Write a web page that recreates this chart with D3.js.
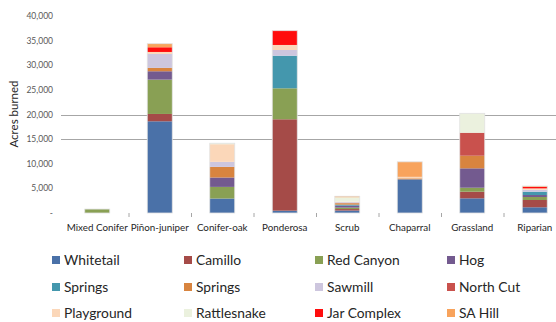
<!DOCTYPE html>
<html>
<head>
<meta charset="utf-8">
<script src="https://cdn.jsdelivr.net/npm/d3@7"></script>
<style>
  body { margin: 0; background: #fff; }
  svg { display: block; font-family: Lato, "Open Sans", sans-serif; }
</style>
</head>
<body>
<div id="chart"></div>
<script>
const width = 556, height = 322;

// categories along the x axis
const categories = ["Mixed Conifer", "Piñon-juniper", "Conifer-oak", "Ponderosa", "Scrub", "Chaparral", "Grassland", "Riparian"];

// fires (stack order, bottom to top)
const seriesKeys = ["whitetail", "camillo", "redCanyon", "hog", "springsA", "springsB", "sawmill", "northCut", "playground", "rattlesnake", "jarComplex", "saHill"];
const seriesLabels = ["Whitetail", "Camillo", "Red Canyon", "Hog", "Springs", "Springs", "Sawmill", "North Cut", "Playground", "Rattlesnake", "Jar Complex", "SA Hill"];
const seriesColors = ["#4a71a8", "#a54b48", "#89a054", "#735a8f", "#4497ad", "#d8843f", "#cdc6de", "#c9514d", "#fbd7b9", "#ebf1de", "#ff0d0d", "#f8a35c"];

// acres burned per category, one array per fire
const whitetail   = [0, 18620, 2940, 470, 500, 6840, 2980, 1160];
const camillo     = [0, 1490, 0, 18560, 300, 0, 1340, 1480];
const redCanyon   = [800, 6970, 2360, 6290, 300, 0, 810, 610];
const hog         = [0, 1700, 1910, 0, 400, 0, 3940, 400];
const springsA    = [0, 0, 0, 6620, 200, 0, 0, 670];
const springsB    = [0, 680, 2150, 0, 300, 200, 2560, 0];
const sawmill     = [0, 2840, 1020, 1160, 200, 0, 0, 400];
const northCut    = [0, 0, 0, 0, 0, 0, 4670, 0];
const playground  = [0, 400, 3590, 1020, 100, 300, 0, 280];
const rattlesnake = [0, 0, 200, 0, 900, 0, 3940, 0];
const jarComplex  = [0, 950, 0, 2900, 0, 0, 0, 320];
const saHill      = [0, 730, 0, 0, 200, 3050, 0, 150];

const yTicks = [0, 5000, 10000, 15000, 20000, 25000, 30000, 35000, 40000];
const gridValues = [15000, 20000];

const seriesValues = {whitetail, camillo, redCanyon, hog, springsA, springsB, sawmill, northCut, playground, rattlesnake, jarComplex, saHill};

// build rows for d3.stack
const rows = categories.map((c, i) => {
    const r = {category: c};
    seriesKeys.forEach(k => { r[k] = seriesValues[k][i]; });
    return r;
});

const svg = d3.select('#chart')
    .append('svg')
    .attr('width', width)
    .attr('height', height);

const x = d3.scaleBand()
    .domain(categories)
    .range([66, 566])
    .padding(0);

const y = d3.scaleLinear()
    .domain([0, 40000])
    .range([213, 16]);

const color = d3.scaleOrdinal().domain(seriesKeys).range(seriesColors);

// gridlines
svg.append('g')
    .selectAll('line')
    .data(gridValues)
    .enter().append('line')
    .attr('x1', 61)
    .attr('x2', width)
    .attr('y1', d => Math.round(y(d)) + 0.5)
    .attr('y2', d => Math.round(y(d)) + 0.5)
    .attr('stroke', '#a6a6a6')
    .attr('stroke-width', 1.2);

// y tick labels
const fmt = d3.format(',');
svg.append('g')
    .selectAll('text')
    .data(yTicks)
    .enter().append('text')
    .attr('x', 53)
    .attr('y', d => y(d) + 3)
    .attr('text-anchor', 'end')
    .attr('font-size', 8.5)
    .attr('fill', '#595959')
    .text(d => d === 0 ? '-' : fmt(d));

// y axis title
svg.append('text')
    .attr('transform', 'translate(18,114) rotate(-90)')
    .attr('text-anchor', 'middle')
    .attr('font-size', 11.5)
    .attr('fill', '#262626')
    .text('Acres burned');

// stacked bars
const stacked = d3.stack().keys(seriesKeys)(rows);
const barW = x.bandwidth() * 0.4;

svg.append('g')
    .selectAll('g')
    .data(stacked)
    .enter().append('g')
    .attr('fill', d => color(d.key))
    .selectAll('rect')
    .data(d => d.filter(s => s[1] - s[0] > 0))
    .enter().append('rect')
    .attr('x', d => x(d.data.category) + (x.bandwidth() - barW) / 2)
    .attr('width', barW)
    .attr('y', d => y(d[1]))
    .attr('height', d => y(d[0]) - y(d[1]));

// bar outline
svg.append('g')
    .selectAll('rect')
    .data(rows.map((r, i) => ({category: r.category, total: d3.sum(seriesKeys, k => r[k])})))
    .enter().append('rect')
    .attr('x', d => x(d.category) + (x.bandwidth() - barW) / 2)
    .attr('width', barW)
    .attr('y', d => y(d.total))
    .attr('height', d => y(0) - y(d.total))
    .attr('fill', 'none')
    .attr('stroke', '#e2e2e2')
    .attr('stroke-width', 0.8);

// category tick marks
svg.append('g')
    .selectAll('line')
    .data(categories.slice(1))
    .enter().append('line')
    .attr('x1', d => x(d) + 0.5)
    .attr('x2', d => x(d) + 0.5)
    .attr('y1', 213)
    .attr('y2', 217)
    .attr('stroke', '#a6a6a6');

// category labels
svg.append('g')
    .selectAll('text')
    .data(categories)
    .enter().append('text')
    .attr('x', d => x(d) + x.bandwidth() / 2)
    .attr('y', 231)
    .attr('text-anchor', 'middle')
    .attr('font-size', 9.8)
    .attr('fill', '#262626')
    .text(d => d);

// legend
const legendX = [52, 184, 315, 447];
const legendY = [260, 287, 313];
const legend = svg.append('g')
    .selectAll('g')
    .data(seriesKeys)
    .enter().append('g')
    .attr('transform', (d, i) => 'translate(' + legendX[i % 4] + ',' + legendY[Math.floor(i / 4)] + ')');

legend.append('rect')
    .attr('x', 0)
    .attr('y', -4)
    .attr('width', 8)
    .attr('height', 8)
    .attr('fill', d => color(d));

legend.append('text')
    .attr('x', 12)
    .attr('y', 4.5)
    .attr('font-size', 13.8)
    .attr('fill', '#262626')
    .text((d, i) => seriesLabels[i]);
</script>
</body>
</html>
